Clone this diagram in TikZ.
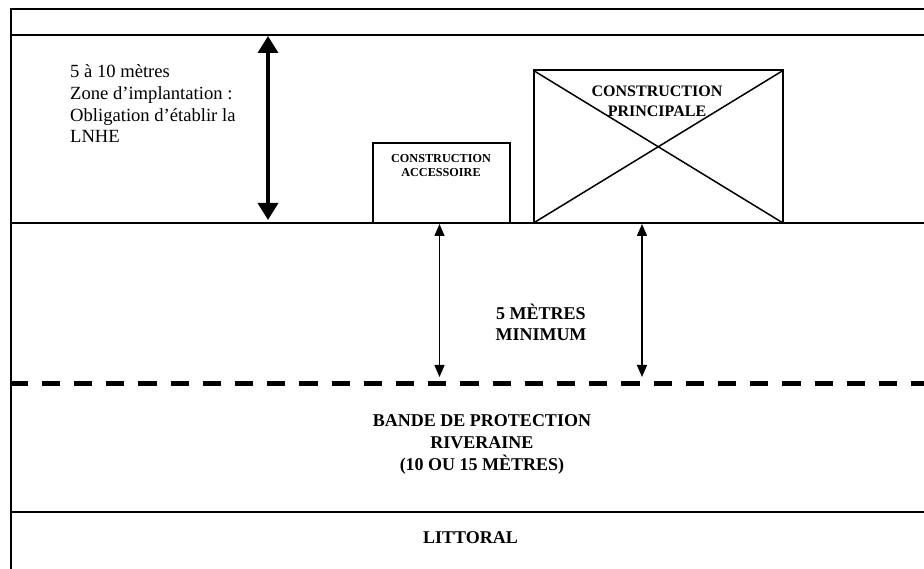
\documentclass[tikz,border=0pt]{standalone}
\usepackage{fontspec}
\setmainfont{Liberation Serif}
\usetikzlibrary{arrows.meta}
\begin{document}
\begin{tikzpicture}[x=1pt,y=-1pt,
  frame/.style={line width=2pt,black},
  dashline/.style={line width=4.6pt,black,dash pattern=on 18.3pt off 13.9pt,dash phase=1.5pt},
  bigarrow/.style={line width=3.6pt,{Triangle[length=17pt,width=20pt]}-{Triangle[length=17pt,width=20pt]}},
  smallarrow/.style={line width=1.5pt,{Triangle[length=12pt,width=10pt]}-{Triangle[length=12pt,width=10pt]}},
  bldg/.style={draw,line width=2pt,inner sep=0pt},
  lbl/.style={inner sep=0pt,align=center,font=\bfseries\fontsize{18}{22}\selectfont},
  plain/.style={inner sep=0pt,align=left,font=\fontsize{18.6}{21.7}\selectfont}
]
\useasboundingbox (0,0) rectangle (924,569);
% frame lines
\coordinate (tl) at (11,9.5);
\coordinate (tr) at (924,9.5);
\coordinate (bl) at (11,569);
\coordinate (l1a) at (11,35);   \coordinate (l1b) at (924,35);
\coordinate (l2a) at (11,223);  \coordinate (l2b) at (924,223);
\coordinate (l3a) at (11,383.3);\coordinate (l3b) at (924,383.3);
\coordinate (l4a) at (11,512);  \coordinate (l4b) at (924,512);
\draw[frame] (tr) -- (tl) -- (bl);
\draw[frame] (l1a) -- (l1b);
\draw[frame] (l2a) -- (l2b);
\draw[frame] (l4a) -- (l4b);
\draw[dashline] (l3a) -- (l3b);

% thick double arrow
\coordinate (ba1) at (268,36);
\coordinate (ba2) at (268,220);
\draw[bigarrow] (ba1) -- (ba2);

% text
\node[plain,anchor=base west] (zone) at (70,143)
  {5 à 10 mètres\\Zone d’implantation :\\Obligation d’établir la\\LNHE};

% accessory building
\draw[bldg] (373,223) |- (509.5,143) -- (509.5,223);
\coordinate (accc) at (441,166);
\node[lbl,font=\bfseries\fontsize{12.2}{14}\selectfont] (acc) at (accc)
  {CONSTRUCTION\\ACCESSOIRE};

% principal building
\coordinate (p1) at (533.5,223);
\coordinate (p2) at (783,70.5);
\coordinate (p3) at (533.5,70.5);
\coordinate (p4) at (783,223);
\draw[bldg] (p1) |- (p2) -- (p4);
\draw[line width=1.5pt] (p1) -- (p2);
\draw[line width=1.5pt] (p3) -- (p4);
\node[lbl,font=\bfseries\fontsize{16}{19.5}\selectfont] (princ) at (657,101.5)
  {CONSTRUCTION\\PRINCIPALE};

% thin arrows
\coordinate (sa1) at (439.5,224);
\coordinate (sa2) at (439.5,377);
\coordinate (sb1) at (642,224);
\coordinate (sb2) at (642,377);
\draw[smallarrow] (sa1) -- (sa2);
\draw[smallarrow] (sb1) -- (sb2);

\node[lbl,font=\bfseries\fontsize{18}{21}\selectfont] (cinq) at (541,322) {5 MÈTRES\\MINIMUM};
\node[lbl] (bande) at (482,444.5) {BANDE DE PROTECTION\\RIVERAINE\\(10 OU 15 MÈTRES)};
\node[lbl] (litt) at (470.5,538) {LITTORAL};
\end{tikzpicture}
\end{document}
